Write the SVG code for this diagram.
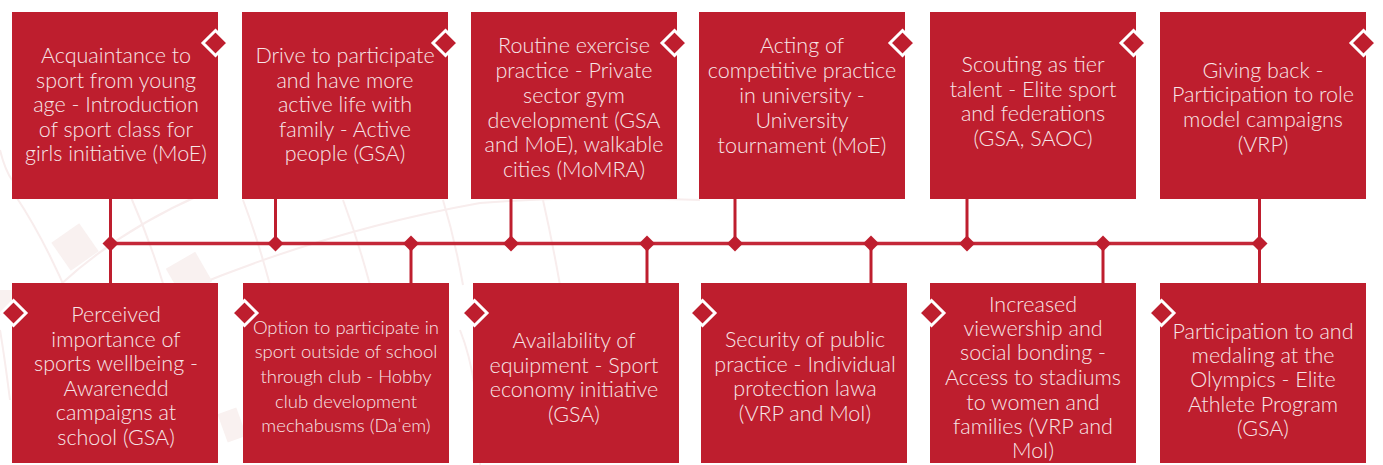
<svg xmlns="http://www.w3.org/2000/svg" width="1383" height="465" viewBox="0 0 1383 465">
<defs>
<style>
.box{fill:#be1e2e}
.tag{fill:#be1e2e;stroke:#ffffff;stroke-width:3}
.jn{fill:#be1e2e}
.ln{stroke:#be1e2e;stroke-width:3;fill:none}
.hl{stroke:#c42838;stroke-width:3.5;fill:none}
.t{font-family:Lato,"Open Sans","Liberation Sans",sans-serif;font-weight:300;font-size:21.5px;fill:#f7e6e8;text-anchor:middle}
.s{font-size:18.5px}
.bg{stroke:#f8eded;stroke-width:2;fill:none}
.sq{fill:#f9f1f0}
</style>
</defs>
<g id="background">
<path class="bg" d="M15 195 Q45 240 70 300"/>
<path class="bg" d="M130 195 Q150 240 165 290"/>
<path class="bg" d="M243 200 Q258 240 270 285"/>
<path class="bg" d="M343 200 Q358 240 370 285"/>
<path class="bg" d="M443 200 Q455 240 463 285"/>
<path class="bg" d="M543 200 Q552 240 560 285"/>
<path class="bg" d="M60 285 Q120 230 200 195"/>
<path class="bg" d="M190 288 Q330 230 480 203 Q560 196 700 200"/>
<path class="bg" d="M0 150 Q5 170 12 180"/>
<path class="bg" d="M0 330 Q5 360 10 400"/>
<path class="bg" d="M460 330 Q480 380 480 465"/>
<rect class="sq" x="58" y="230" width="34" height="34" transform="rotate(-35 75 247)"/>
<rect class="sq" x="172" y="258" width="34" height="34" transform="rotate(-30 189 275)"/>
<rect class="sq" x="222" y="410" width="20" height="30" transform="rotate(-20 232 425)"/>
<rect class="sq" x="0" y="290" width="14" height="25"/>
</g>
<g id="connectors">
<line class="hl" x1="110.5" y1="243.5" x2="1259.5" y2="243.5"/>
<line class="ln" x1="110.5" y1="199" x2="110.5" y2="283"/>
<line class="ln" x1="275.5" y1="199" x2="275.5" y2="243"/>
<line class="ln" x1="511" y1="199" x2="511" y2="243"/>
<line class="ln" x1="735" y1="199" x2="735" y2="243"/>
<line class="ln" x1="967" y1="199" x2="967" y2="243"/>
<line class="ln" x1="1259.5" y1="199" x2="1259.5" y2="283"/>
<line class="ln" x1="411" y1="243" x2="411" y2="283"/>
<line class="ln" x1="647" y1="243" x2="647" y2="283"/>
<line class="ln" x1="871" y1="243" x2="871" y2="283"/>
<line class="ln" x1="1103" y1="243" x2="1103" y2="283"/>
<polygon class="jn" points="110.5,235.5 118.5,243.5 110.5,251.5 102.5,243.5"/>
<polygon class="jn" points="275.5,235.5 283.5,243.5 275.5,251.5 267.5,243.5"/>
<polygon class="jn" points="411,235.5 419,243.5 411,251.5 403,243.5"/>
<polygon class="jn" points="511,235.5 519,243.5 511,251.5 503,243.5"/>
<polygon class="jn" points="647,235.5 655,243.5 647,251.5 639,243.5"/>
<polygon class="jn" points="735,235.5 743,243.5 735,251.5 727,243.5"/>
<polygon class="jn" points="871,235.5 879,243.5 871,251.5 863,243.5"/>
<polygon class="jn" points="967,235.5 975,243.5 967,251.5 959,243.5"/>
<polygon class="jn" points="1103,235.5 1111,243.5 1103,251.5 1095,243.5"/>
<polygon class="jn" points="1259.5,235.5 1267.5,243.5 1259.5,251.5 1251.5,243.5"/>
</g>
<g id="top1">
<rect class="box" x="12" y="12" width="206" height="187"/>
<polygon class="tag" points="215.5,30.5 228,43 215.5,55.5 203,43"/>
<text class="t" x="116"><tspan x="116" y="63">Acquaintance to</tspan><tspan x="116" y="87.5">sport from young</tspan><tspan x="116" y="112">age - Introduction</tspan><tspan x="116" y="136.5">of sport class for</tspan><tspan x="116" y="161">girls initiative (MoE)</tspan></text>
</g>
<g id="top2">
<rect class="box" x="242" y="12" width="206" height="187"/>
<polygon class="tag" points="445.5,30.5 458,43 445.5,55.5 433,43"/>
<text class="t"><tspan x="345" y="63">Drive to participate</tspan><tspan x="345" y="87.5">and have more</tspan><tspan x="345" y="112">active life with</tspan><tspan x="345" y="136.5">family - Active</tspan><tspan x="345" y="161">people (GSA)</tspan></text>
</g>
<g id="top3">
<rect class="box" x="471" y="12" width="206" height="187"/>
<polygon class="tag" points="674.5,30.5 687,43 674.5,55.5 662,43"/>
<text class="t"><tspan x="574" y="53">Routine exercise</tspan><tspan x="574" y="78">practice - Private</tspan><tspan x="574" y="102.5">sector gym</tspan><tspan x="574" y="127.5">development (GSA</tspan><tspan x="574" y="152">and MoE), walkable</tspan><tspan x="574" y="177">cities (MoMRA)</tspan></text>
</g>
<g id="top4">
<rect class="box" x="699" y="12" width="206" height="187"/>
<polygon class="tag" points="902.5,30.5 915,43 902.5,55.5 890,43"/>
<text class="t"><tspan x="802" y="53">Acting of</tspan><tspan x="802" y="78">competitive practice</tspan><tspan x="802" y="103">in university -</tspan><tspan x="802" y="128">University</tspan><tspan x="802" y="153">tournament (MoE)</tspan></text>
</g>
<g id="top5">
<rect class="box" x="930" y="12" width="206" height="187"/>
<polygon class="tag" points="1133.5,30.5 1146,43 1133.5,55.5 1121,43"/>
<text class="t"><tspan x="1033" y="72">Scouting as tier</tspan><tspan x="1033" y="97">talent - Elite sport</tspan><tspan x="1033" y="121">and federations</tspan><tspan x="1033" y="146">(GSA, SAOC)</tspan></text>
</g>
<g id="top6">
<rect class="box" x="1160" y="12" width="206" height="187"/>
<polygon class="tag" points="1363.5,30.5 1376,43 1363.5,55.5 1351,43"/>
<text class="t"><tspan x="1263" y="78">Giving back -</tspan><tspan x="1263" y="102">Participation to role</tspan><tspan x="1263" y="127">model campaigns</tspan><tspan x="1263" y="152">(VRP)</tspan></text>
</g>
<g id="bottom1">
<rect class="box" x="12" y="283" width="206" height="180"/>
<polygon class="tag" points="13.5,300.5 26,313 13.5,325.5 1,313"/>
<text class="t"><tspan x="116" y="321.5">Perceived</tspan><tspan x="116" y="346.5">importance of</tspan><tspan x="116" y="371">sports wellbeing -</tspan><tspan x="116" y="395.5">Awarenedd</tspan><tspan x="116" y="420">campaigns at</tspan><tspan x="116" y="444.5">school (GSA)</tspan></text>
</g>
<g id="bottom2">
<rect class="box" x="243" y="283" width="206" height="180"/>
<polygon class="tag" points="244.5,300.5 257,313 244.5,325.5 232,313"/>
<text class="t s"><tspan x="346" y="333.5">Option to participate in</tspan><tspan x="346" y="358">sport outside of school</tspan><tspan x="346" y="383">through club - Hobby</tspan><tspan x="346" y="407.5">club development</tspan><tspan x="346" y="432">mechabusms (Daˈem)</tspan></text>
</g>
<g id="bottom3">
<rect class="box" x="473" y="283" width="206" height="180"/>
<polygon class="tag" points="474.5,300.5 487,313 474.5,325.5 462,313"/>
<text class="t"><tspan x="574" y="348">Availability of</tspan><tspan x="574" y="372.5">equipment - Sport</tspan><tspan x="574" y="397">economy initiative</tspan><tspan x="574" y="422">(GSA)</tspan></text>
</g>
<g id="bottom4">
<rect class="box" x="701" y="283" width="206" height="180"/>
<polygon class="tag" points="702.5,300.5 715,313 702.5,325.5 690,313"/>
<text class="t"><tspan x="805" y="346.5">Security of public</tspan><tspan x="805" y="371.5">practice - Individual</tspan><tspan x="805" y="396">protection lawa</tspan><tspan x="805" y="421">(VRP and MoI)</tspan></text>
</g>
<g id="bottom5">
<rect class="box" x="930" y="283" width="206" height="180"/>
<polygon class="tag" points="931.5,300.5 944,313 931.5,325.5 919,313"/>
<text class="t"><tspan x="1033" y="311.5">Increased</tspan><tspan x="1033" y="336">viewership and</tspan><tspan x="1033" y="360">social bonding -</tspan><tspan x="1033" y="385">Access to stadiums</tspan><tspan x="1033" y="409.5">to women and</tspan><tspan x="1033" y="434">families (VRP and</tspan><tspan x="1033" y="458">MoI)</tspan></text>
</g>
<g id="bottom6">
<rect class="box" x="1160" y="283" width="206" height="180"/>
<polygon class="tag" points="1161.5,300.5 1174,313 1161.5,325.5 1149,313"/>
<text class="t"><tspan x="1263" y="338.5">Participation to and</tspan><tspan x="1263" y="362.5">medaling at the</tspan><tspan x="1263" y="386.5">Olympics - Elite</tspan><tspan x="1263" y="411.5">Athlete Program</tspan><tspan x="1263" y="436">(GSA)</tspan></text>
</g>
</svg>
